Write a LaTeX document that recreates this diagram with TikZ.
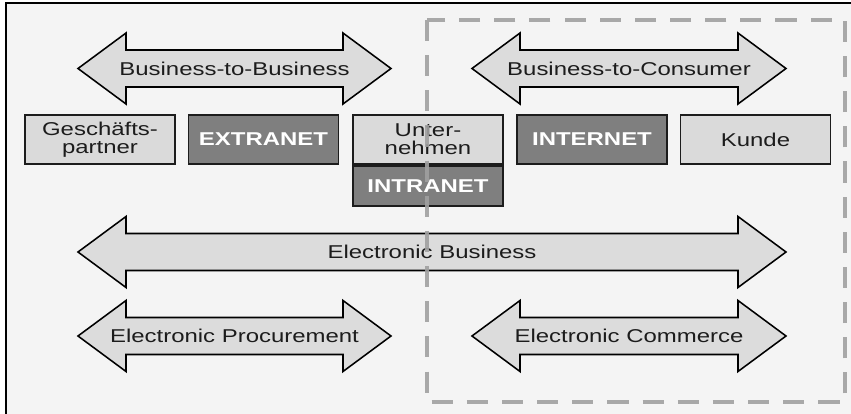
\documentclass[tikz,border=0pt]{standalone}
\usepackage{fontspec}
\setmainfont{Liberation Sans}[FakeStretch=1.29]
\usepackage{tikz}
\usetikzlibrary{positioning}

\definecolor{paper}{HTML}{F4F4F4}
\definecolor{lightbox}{HTML}{DADADA}
\definecolor{darkbox}{HTML}{7F7F7F}
\definecolor{arrowfill}{HTML}{DCDCDC}
\definecolor{dashgray}{HTML}{A0A0A0}
\definecolor{ink}{HTML}{1C1C1C}

% double headed block arrow: left tip, right tip, middle height
\newcommand{\blockarrow}[3]{%
  \draw[blockarrow] (#1,#3) -- ({#1+48},{#3-35.5}) -- ({#1+48},{#3-18.5})
    -- ({#2-48},{#3-18.5}) -- ({#2-48},{#3-35.5}) -- (#2,#3)
    -- ({#2-48},{#3+35.5}) -- ({#2-48},{#3+18.5}) -- ({#1+48},{#3+18.5})
    -- ({#1+48},{#3+35.5}) -- cycle;}

\tikzset{
  blockarrow/.style={draw=black, line width=1.1pt, fill=arrowfill, line join=miter},
  arrowtext/.style={text=ink, font=\fontsize{13.2}{13.5}\selectfont},
  lightbox/.style={draw=ink, line width=1.3pt, fill=lightbox, text=ink,
    minimum width=3.75cm, minimum height=1.225cm, inner sep=0pt, align=center,
    font=\fontsize{13.2}{13}\selectfont},
  darkbox/.style={lightbox, fill=darkbox, text=white, font=\fontsize{13.2}{13}\selectfont\bfseries},
}

\begin{document}
\begin{tikzpicture}[x=0.025cm, y=-0.025cm]
      \useasboundingbox (0,0) rectangle (851,414);
      \fill[white] (0,0) rectangle (851,414);

      % paper and frame
      \fill[paper] (6,3) rectangle (851,414);
      \draw[line width=1.5pt, line cap=rect] (6,414) -- (6,3) -- (851,3);

      % B2B and B2C
      \blockarrow{78}{391}{68.5}
      \node[arrowtext](b2b) at (234.5,68.5){Business-to-Business};
      \blockarrow{472}{786}{68.5}
      \node[arrowtext](b2c) at (629,68.5){Business-to-Consumer};

      % the boxes
      \node[lightbox](partner) at (100,139.5){Geschäfts-\\partner};
      \node[darkbox](extranet) at (263.5,139.5){EXTRANET};
      \node[lightbox](firm) at (428,139.5){Unter-\\nehmen};
      \node[darkbox, minimum height=1cm, below=0pt of firm](intranet){INTRANET};
      \node[darkbox](internet) at (592,139.5){INTERNET};
      \node[lightbox](kunde) at (755.5,139.5){Kunde};

      % electronic business
      \blockarrow{78}{786}{252}
      \node[arrowtext](ebiz) at (432,252){Electronic Business};

      % procurement and commerce
      \blockarrow{78}{391}{336}
      \node[arrowtext](eproc) at (234.5,336){Electronic Procurement};
      \blockarrow{472}{786}{336}
      \node[arrowtext](ecom) at (629,336){Electronic Commerce};

      % consumer side
      \draw[dashgray, line width=2.3pt, dash pattern=on 15pt off 10pt, opacity=0.9]
        (427,20) rectangle (845,402);
    \end{tikzpicture}
\end{document}
